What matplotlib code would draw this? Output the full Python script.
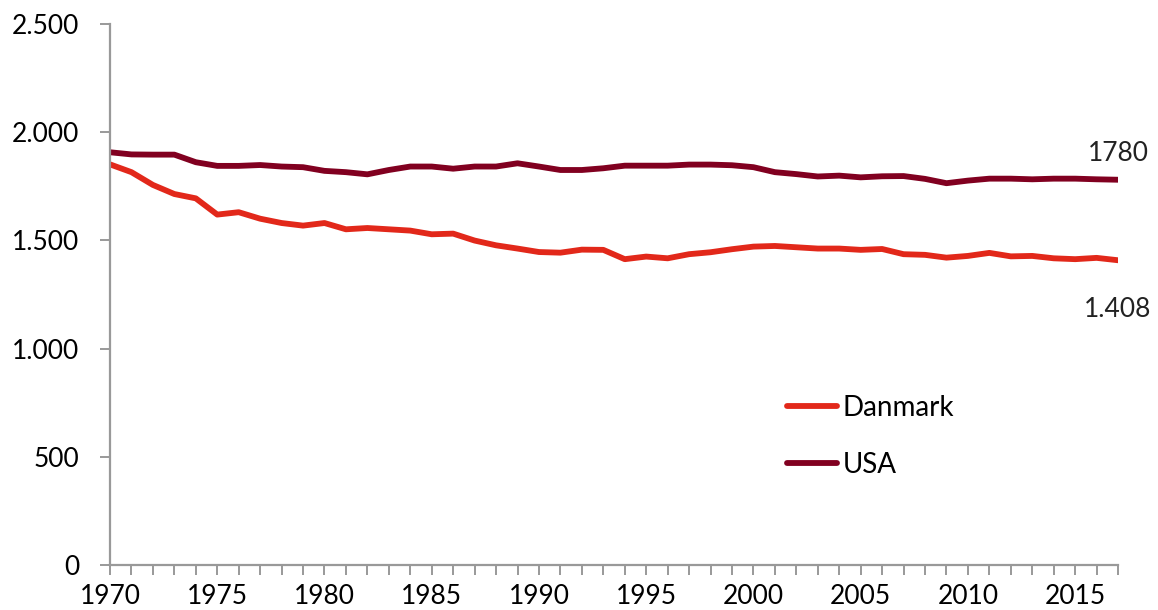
import matplotlib
matplotlib.use("Agg")
import matplotlib.pyplot as plt
from matplotlib.ticker import FuncFormatter, MultipleLocator
import numpy as np

# data
years = list(range(1970, 2018))
danmark = [1851, 1815, 1756, 1714, 1694, 1619, 1630, 1600, 1580, 1568,
           1580, 1551, 1557, 1551, 1545, 1528, 1531, 1499, 1477, 1462,
           1446, 1443, 1457, 1456, 1413, 1425, 1417, 1436, 1445, 1459,
           1471, 1474, 1468, 1462, 1462, 1456, 1460, 1436, 1433, 1420,
           1428, 1442, 1426, 1428, 1417, 1413, 1419, 1408]
usa = [1907, 1897, 1896, 1896, 1861, 1844, 1844, 1848, 1841, 1838,
       1821, 1815, 1805, 1825, 1841, 1841, 1831, 1841, 1841, 1856,
       1841, 1825, 1825, 1833, 1845, 1845, 1845, 1850, 1850, 1847,
       1838, 1815, 1806, 1795, 1799, 1791, 1796, 1797, 1784, 1764,
       1776, 1785, 1785, 1782, 1785, 1785, 1782, 1780]
series_names = ["Danmark", "USA"]
end_labels = ["1.408", "1780"]

plt.rcParams["font.family"] = ["Lato", "DejaVu Sans"]

fig = plt.figure(figsize=(11.58, 6.10), dpi=100)
ax = fig.add_axes([0.095, 0.0738, 0.8705, 0.887])

red = "#E2281A"
maroon = "#810020"
ax.plot(years, danmark, color=red, lw=4.2, label=series_names[0], solid_capstyle="round")
ax.plot(years, usa, color=maroon, lw=4.2, label=series_names[1], solid_capstyle="round")

ax.set_xlim(1970, 2017)
ax.set_ylim(0, 2500)
ax.yaxis.set_major_locator(MultipleLocator(500))
ax.xaxis.set_major_locator(MultipleLocator(5))
ax.xaxis.set_minor_locator(MultipleLocator(1))
ax.yaxis.set_major_formatter(FuncFormatter(lambda v, p: format(int(v), ",").replace(",", ".")))

for s in ["top", "right"]:
    ax.spines[s].set_visible(False)
for s in ["left", "bottom"]:
    ax.spines[s].set_color("#999999")
    ax.spines[s].set_linewidth(1.6)

ax.tick_params(axis="both", which="both", color="#999999", width=1.4, direction="out")
ax.tick_params(axis="y", length=7, labelsize=19, pad=15)
ax.tick_params(axis="x", which="major", length=7, labelsize=19, pad=7)
ax.tick_params(axis="x", which="minor", length=7)

# end-of-line value labels
ax.annotate(end_labels[1], (years[-1], usa[-1]), xytext=(0, 26), textcoords="offset pixels",
            ha="center", va="center", fontsize=19, color="#222222", annotation_clip=False)
ax.annotate(end_labels[0], (years[-1], danmark[-1]), xytext=(0, -49), textcoords="offset pixels",
            ha="center", va="center", fontsize=19, color="#222222", annotation_clip=False)

leg = ax.legend(loc="upper left", bbox_to_anchor=(0.672, 0.314), frameon=False,
                fontsize=20, handlelength=1.8, handletextpad=0.18, labelspacing=1.12,
                borderpad=0, borderaxespad=0)

fig.savefig("out.png", dpi=100, facecolor="white")
